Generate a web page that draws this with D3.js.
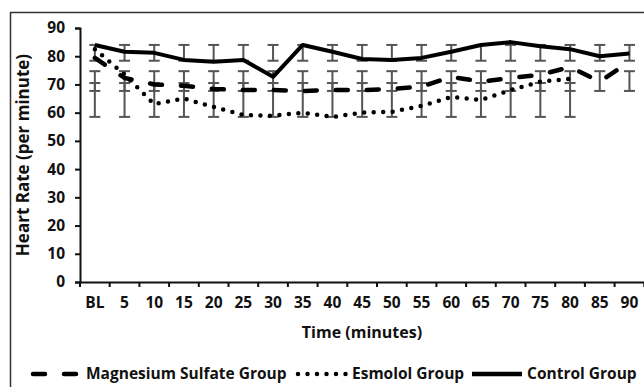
<!DOCTYPE html>
<html>
<head>
<meta charset="utf-8">
<script src="https://cdn.jsdelivr.net/npm/d3@7"></script>
<style>
  body { margin: 0; background: #fff; }
  text { font-family: "Open Sans", sans-serif; font-weight: bold; fill: #111; }
</style>
</head>
<body>
<script>
// time points and heart rate
let categories = ["BL","5","10","15","20","25","30","35","40","45","50","55","60","65","70","75","80","85","90"];
let yTicks = [0,10,20,30,40,50,60,70,80,90];

let magnesiumHR = [79.4,72.3,70,69.5,68.4,68,68,67.7,68,68,68.4,69.2,72.7,71,72.3,73.4,76.2,71,78];
let esmololHR   = [82.5,73.5,63,65,62,59.2,58.9,60,58.5,60,60.3,62.4,65.6,64.5,68,71,72,null,null];
let controlHR   = [84,81.6,81.2,78.7,78,78.7,72.7,84,81.6,79,78.7,79.4,81.6,84,85,83.5,82.5,80,81];

// error bar ranges [low, high] for each group
let magnesiumErr = [67.7,74.7];
let esmololErr   = [58.5,70.5];
let controlErr   = [78.4,84];

var width = 644, height = 387;

var svg = d3.select("body").append("svg")
  .attr("width", width)
  .attr("height", height);

// outer frame, right and bottom edges run off the picture
svg.append("rect")
  .attr("x", 10.5).attr("y", 12.5)
  .attr("width", 700).attr("height", 450)
  .attr("fill", "none")
  .attr("stroke", "#333")
  .attr("stroke-width", 1.5);

var x = d3.scaleBand()
  .domain(categories)
  .range([80, 80 + 19 * 29.7]);

var y = d3.scaleLinear()
  .domain([0, 90])
  .range([282, 28]);

function cx(i) { return x(categories[i]) + x.bandwidth() / 2; }

// y axis
var yAxis = svg.append("g")
  .attr("transform", "translate(80,0)")
  .call(d3.axisLeft(y).tickValues(yTicks).tickSize(5).tickPadding(10));
yAxis.attr("font-size", 15.5).attr("font-family", "Open Sans").attr("font-weight", "bold");
yAxis.select(".domain").attr("stroke", "#111").attr("stroke-width", 2);
yAxis.selectAll(".tick line").attr("stroke", "#111").attr("stroke-width", 2);
yAxis.selectAll("text").style("font-size", "15.5px").attr("fill", "#111");

// x axis, labels centred on the bands, ticks at band edges
var xAxis = svg.append("g")
  .attr("transform", "translate(0,282)")
  .call(d3.axisBottom(x).tickSize(0).tickPadding(15));
xAxis.attr("font-size", 15.5).attr("font-family", "Open Sans").attr("font-weight", "bold");
xAxis.select(".domain").attr("stroke", "#111").attr("stroke-width", 2);
xAxis.selectAll("text").style("font-size", "15.5px").attr("fill", "#111");

xAxis.selectAll(".edge")
  .data(d3.range(categories.length + 1))
  .enter()
  .append("line")
  .attr("class", "edge")
  .attr("x1", function(d) { return x.range()[0] + d * x.step(); })
  .attr("x2", function(d) { return x.range()[0] + d * x.step(); })
  .attr("y1", 0)
  .attr("y2", 5)
  .attr("stroke", "#111")
  .attr("stroke-width", 2);

// axis titles
svg.append("text")
  .attr("transform", "translate(23,155) rotate(-90)")
  .attr("text-anchor", "middle")
  .attr("dy", "0.35em")
  .style("font-size", "17px")
  .text("Heart Rate (per minute)");

svg.append("text")
  .attr("x", 362)
  .attr("y", 332)
  .attr("text-anchor", "middle")
  .attr("dy", "0.35em")
  .style("font-size", "16px")
  .text("Time (minutes)");

// error bars
var groups = [
  {values: magnesiumHR, err: magnesiumErr},
  {values: esmololHR, err: esmololErr},
  {values: controlHR, err: controlErr}
];

groups.forEach(function(g) {
  var idx = d3.range(categories.length).filter(function(i) { return g.values[i] != null; });
  var eb = svg.append("g").attr("stroke", "#555").attr("stroke-width", 2);
  eb.selectAll(null).data(idx).enter().append("line")
    .attr("x1", cx).attr("x2", cx)
    .attr("y1", y(g.err[0])).attr("y2", y(g.err[1]));
  g.err.forEach(function(v) {
    eb.selectAll(null).data(idx).enter().append("line")
      .attr("x1", function(i) { return cx(i) - 5.5; })
      .attr("x2", function(i) { return cx(i) + 5.5; })
      .attr("y1", y(v)).attr("y2", y(v));
  });
});

// lines
var line = d3.line()
  .defined(function(d) { return d != null; })
  .x(function(d, i) { return cx(i); })
  .y(function(d) { return y(d); });

svg.append("path")
  .attr("d", line(magnesiumHR))
  .attr("fill", "none")
  .attr("stroke", "#000")
  .attr("stroke-width", 4.5)
  .attr("stroke-linecap", "round")
  .attr("stroke-dasharray", "12 19");

svg.append("path")
  .attr("d", line(esmololHR))
  .attr("fill", "none")
  .attr("stroke", "#000")
  .attr("stroke-width", 4.5)
  .attr("stroke-linecap", "round")
  .attr("stroke-dasharray", "0 9.5");

svg.append("path")
  .attr("d", line(controlHR))
  .attr("fill", "none")
  .attr("stroke", "#000")
  .attr("stroke-width", 4)
  .attr("stroke-linejoin", "round");

// legend
var ly = 374;
var legend = svg.append("g");

legend.append("line")
  .attr("x1", 33).attr("x2", 80).attr("y1", ly).attr("y2", ly)
  .attr("stroke", "#000").attr("stroke-width", 4.5)
  .attr("stroke-linecap", "round")
  .attr("stroke-dasharray", "12 19");
legend.append("text").attr("x", 86).attr("y", ly).attr("dy", "0.35em")
  .style("font-size", "15.5px").text("Magnesium Sulfate Group");

legend.append("line")
  .attr("x1", 298).attr("x2", 346).attr("y1", ly).attr("y2", ly)
  .attr("stroke", "#000").attr("stroke-width", 4.5)
  .attr("stroke-linecap", "round")
  .attr("stroke-dasharray", "0 9.5");
legend.append("text").attr("x", 352).attr("y", ly).attr("dy", "0.35em")
  .style("font-size", "15.5px").text("Esmolol Group");

legend.append("line")
  .attr("x1", 472).attr("x2", 522).attr("y1", ly).attr("y2", ly)
  .attr("stroke", "#000").attr("stroke-width", 4.5);
legend.append("text").attr("x", 527).attr("y", ly).attr("dy", "0.35em")
  .style("font-size", "15.5px").text("Control Group");
</script>
</body>
</html>
